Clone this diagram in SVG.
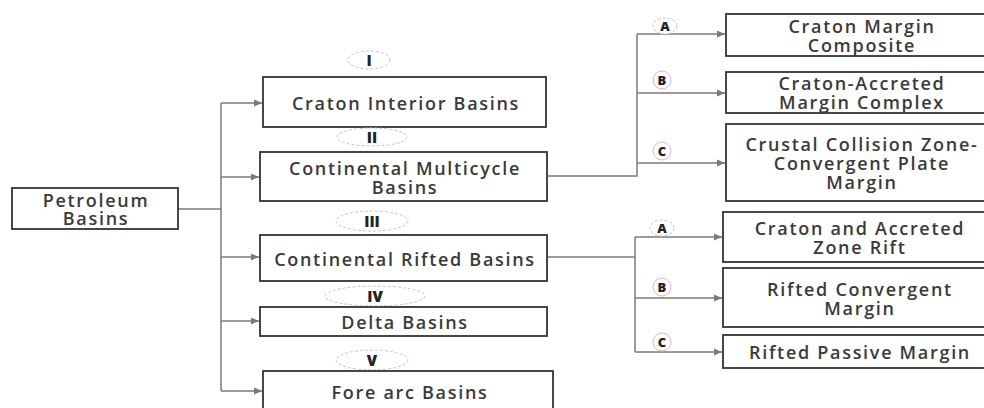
<svg xmlns="http://www.w3.org/2000/svg" width="984" height="408" viewBox="0 0 984 408">
  <style>
    .box { fill: #ffffff; stroke: #333333; stroke-width: 1.8; }
    .lbl { font-family: "Open Sans", "Liberation Sans", sans-serif; font-size: 18px; font-weight: 600; letter-spacing: 1.7px; fill: #3a3a3a; text-anchor: middle; dominant-baseline: central; }
    .tag { fill: #ffffff; stroke: #c9c3c6; stroke-width: 1; stroke-dasharray: 3 2; }
    .tagc { fill: #ffffff; stroke: #d8b8c0; stroke-width: 1; }
    .num { font-family: "Open Sans", "Liberation Sans", sans-serif; font-size: 15px; font-weight: 800; fill: #222222; text-anchor: middle; dominant-baseline: central; }
    .let { font-family: "Open Sans", "Liberation Sans", sans-serif; font-size: 13px; font-weight: 800; fill: #222222; text-anchor: middle; dominant-baseline: central; }
    .wire { fill: none; stroke: #7a7a7a; stroke-width: 1.5; }
    .arr { fill: none; stroke: #7a7a7a; stroke-width: 1.5; marker-end: url(#tip); }
  </style>
  <defs>
    <marker id="tip" viewBox="0 0 8 8" refX="8" refY="4" markerWidth="8" markerHeight="8" markerUnits="userSpaceOnUse" orient="auto">
      <path d="M0,0.5 L8,4 L0,7.5 Z" fill="#7a7a7a"/>
    </marker>
  </defs>
  <rect width="984" height="408" fill="#ffffff"/>

  <!-- connectors -->
  <g id="connectors">
    <path class="wire" d="M178,209 H221"/>
    <path class="wire" d="M221,103 V391"/>
    <path class="arr" d="M221,103 H262"/>
    <path class="arr" d="M221,177 H259"/>
    <path class="arr" d="M221,257 H259"/>
    <path class="arr" d="M221,321 H259"/>
    <path class="arr" d="M221,391 H262"/>

    <path class="wire" d="M547,176 H637 V34"/>
    <path class="arr" d="M637,34 H725"/>
    <path class="arr" d="M637,93 H725"/>
    <path class="arr" d="M637,163 H725"/>

    <path class="wire" d="M547,257 H635"/>
    <path class="wire" d="M635,237 V352"/>
    <path class="arr" d="M635,237 H722"/>
    <path class="arr" d="M635,298 H722"/>
    <path class="arr" d="M635,352 H722"/>
  </g>

  <!-- root -->
  <g id="petroleum">
    <rect class="box" x="12" y="188" width="166" height="41"/>
    <text class="lbl" x="96" y="200">Petroleum</text>
    <text class="lbl" x="96" y="218">Basins</text>
  </g>

  <!-- basin classes -->
  <g id="class-i">
    <ellipse class="tag" cx="369" cy="60" rx="21" ry="9"/>
    <text class="num" x="369" y="60">I</text>
    <rect class="box" x="263" y="77" width="283" height="50"/>
    <text class="lbl" x="406" y="103">Craton Interior Basins</text>
  </g>
  <g id="class-ii">
    <ellipse class="tag" cx="372" cy="137" rx="35" ry="9"/>
    <text class="num" x="372" y="137">II</text>
    <rect class="box" x="260" y="152" width="287" height="49"/>
    <text class="lbl" x="405" y="168">Continental Multicycle</text>
    <text class="lbl" x="405" y="187">Basins</text>
  </g>
  <g id="class-iii">
    <ellipse class="tag" cx="372" cy="221" rx="36" ry="10"/>
    <text class="num" x="372" y="221">III</text>
    <rect class="box" x="260" y="235" width="287" height="46"/>
    <text class="lbl" x="405" y="259">Continental Rifted Basins</text>
  </g>
  <g id="class-iv">
    <ellipse class="tag" cx="375" cy="296" rx="50" ry="10"/>
    <text class="num" x="375" y="296">IV</text>
    <rect class="box" x="260" y="307" width="287" height="29"/>
    <text class="lbl" x="405" y="322">Delta Basins</text>
  </g>
  <g id="class-v">
    <ellipse class="tag" cx="372" cy="360" rx="36" ry="10"/>
    <text class="num" x="372" y="360">V</text>
    <rect class="box" x="263" y="371" width="290" height="50"/>
    <text class="lbl" x="410" y="392">Fore arc Basins</text>
  </g>

  <!-- multicycle subtypes -->
  <g id="ii-a">
    <ellipse class="tag" cx="665" cy="26" rx="12" ry="8"/>
    <text class="let" x="665" y="26">A</text>
    <rect class="box" x="726" y="14" width="270" height="42"/>
    <text class="lbl" x="862" y="26">Craton Margin</text>
    <text class="lbl" x="862" y="45">Composite</text>
  </g>
  <g id="ii-b">
    <circle class="tagc" cx="662" cy="80" r="9"/>
    <text class="let" x="662" y="80">B</text>
    <rect class="box" x="726" y="72" width="270" height="41"/>
    <text class="lbl" x="862" y="83">Craton-Accreted</text>
    <text class="lbl" x="862" y="102">Margin Complex</text>
  </g>
  <g id="ii-c">
    <circle class="tagc" cx="662" cy="151" r="9"/>
    <text class="let" x="662" y="151">C</text>
    <rect class="box" x="726" y="124" width="270" height="77"/>
    <text class="lbl" x="862" y="144">Crustal Collision Zone-</text>
    <text class="lbl" x="862" y="163">Convergent Plate</text>
    <text class="lbl" x="862" y="182">Margin</text>
  </g>

  <!-- rifted subtypes -->
  <g id="iii-a">
    <ellipse class="tag" cx="662" cy="228" rx="12" ry="8"/>
    <text class="let" x="662" y="228">A</text>
    <rect class="box" x="723" y="212" width="273" height="50"/>
    <text class="lbl" x="860" y="228">Craton and Accreted</text>
    <text class="lbl" x="860" y="247">Zone Rift</text>
  </g>
  <g id="iii-b">
    <circle class="tagc" cx="662" cy="287" r="9"/>
    <text class="let" x="662" y="287">B</text>
    <rect class="box" x="723" y="268" width="273" height="59"/>
    <text class="lbl" x="860" y="289">Rifted Convergent</text>
    <text class="lbl" x="860" y="308">Margin</text>
  </g>
  <g id="iii-c">
    <circle class="tagc" cx="662" cy="342" r="9"/>
    <text class="let" x="662" y="342">C</text>
    <rect class="box" x="723" y="335" width="273" height="33"/>
    <text class="lbl" x="860" y="352">Rifted Passive Margin</text>
  </g>
</svg>
